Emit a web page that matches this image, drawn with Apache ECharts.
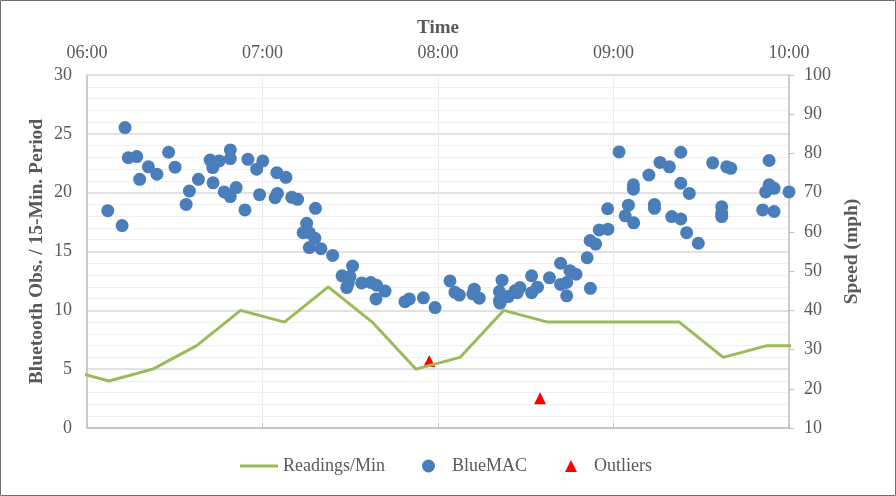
<!DOCTYPE html>
<html>
<head>
<meta charset="utf-8">
<script src="https://cdn.jsdelivr.net/npm/echarts@6/dist/echarts.min.js"></script>
<style>
  html, body { margin: 0; padding: 0; background: #fff; }
  #chart { width: 896px; height: 496px; }
</style>
</head>
<body>
<div id="chart"></div>
<script>
// minutes after 06:00
const readingMin = [-7.5, 7.5, 22.5, 37.5, 52.5, 67.5, 82.5, 97.5, 112.5, 127.5, 142.5, 157.5, 172.5, 187.5, 202.5, 217.5, 232.5, 247.5]
const readingVal = [5, 4, 5, 7, 10, 9, 12, 9, 5, 6, 10, 9, 9, 9, 9, 6, 7, 7]

const blueMin = [7.1, 12.0, 13.0, 14.1, 17.0, 18.0, 21.0, 23.9, 27.9, 30.1, 33.9, 35.0, 38.1, 42.1, 43.0, 43.1,
  45.2, 46.9, 49.0, 49.0, 49.0, 51.0, 54.0, 55.0, 58.0, 59.0, 60.1, 64.3, 64.9, 65.1, 68.0, 70.0, 72.0,
  78.1, 75.1, 73.9, 76.0, 77.9, 76.0, 80.0, 84.0, 90.8, 87.2, 89.9, 89.3, 88.8, 93.9, 97.0, 99.0, 101.9,
  98.8, 108.7, 110.2, 115.0, 119.0, 124.1, 125.8, 127.3, 132.4, 131.9, 134.1, 141.9, 141.0, 141.0, 141.2,
  144.0, 146.3, 148.0, 147.1, 152.0, 152.0, 154.0, 158.1, 161.9, 161.9, 164.0, 164.0, 165.1, 167.2, 171.0,
  172.1, 172.0, 173.9, 175.1, 178.1, 178.0, 181.9, 184.0, 185.1, 186.9, 186.8, 186.8, 192.1, 194.0, 194.0,
  195.9, 199.1, 199.9, 203.0, 203.0, 203.0, 205.9, 205.0, 209.0, 213.9, 217.0, 217.0, 217.0, 218.7, 220.1,
  231.0, 234.9, 233.2, 233.2, 232.0, 234.9, 240.0]
const blueMph = [65.4, 61.6, 86.6, 78.9, 79.2, 73.4, 76.6, 74.7, 80.3, 76.5, 67.0, 70.4, 73.4, 78.3, 76.4, 72.5,
  78.1, 70.2, 80.9, 78.7, 69.0, 71.3, 65.6, 78.5, 76.0, 69.5, 78.1, 68.7, 75.1, 69.8, 73.9, 68.8, 68.3,
  66.0, 62.2, 59.8, 59.8, 58.4, 56.0, 55.7, 54.0, 51.3, 48.8, 48.6, 46.9, 45.8, 47.0, 47.1, 46.4, 44.9,
  42.9, 42.2, 42.9, 43.2, 40.7, 47.5, 44.6, 43.9, 45.4, 44.2, 43.1, 47.7, 44.8, 42.5, 41.8,
  43.5, 45.0, 45.8, 44.5, 48.8, 44.5, 45.9, 48.3, 52.0, 46.6, 47.1, 43.7, 50.1, 49.2, 53.4,
  45.6, 57.8, 56.9, 60.5, 60.7, 65.9, 80.4, 64.1, 66.8, 62.3, 72.0, 70.9, 74.5, 67.0, 66.0,
  77.7, 76.6, 63.9, 80.3, 72.4, 63.3, 69.8, 59.8, 57.1, 77.6, 66.4, 64.7, 63.9, 76.6, 76.2,
  65.6, 65.2, 78.2, 72.0, 70.2, 71.1, 70.2]

const outlierMin = [117.0, 154.9]
const outlierMph = [27.1, 17.6]

const timeTicks = ['06:00', '07:00', '08:00', '09:00', '10:00']

const FONT = 'Liberation Serif'
const TXT = '#595959'
const legendText = { fontFamily: FONT, fontSize: 18, color: TXT }

const chart = echarts.init(document.getElementById('chart'))

const option = {
  animation: false,
  textStyle: { fontFamily: FONT },
  graphic: [{
    type: 'rect',
    shape: { x: 0.5, y: 0.5, width: 895, height: 495 },
    style: { fill: 'none', stroke: '#6e6e6e', lineWidth: 1 },
    silent: true
  }],
  grid: { left: 87, right: 107, top: 75, bottom: 68 },
  // 三个图例分开放，各自的图标大小不同
  legend: [
    {
      left: 240, top: 457, padding: 0,
      itemWidth: 38, itemHeight: 18,
      icon: 'path://M0,0 L38,0 L38,3 L0,3 Z',
      textStyle: legendText,
      data: ['Readings/Min']
    },
    {
      left: 422, top: 457, padding: 0,
      itemWidth: 13, itemHeight: 13,
      icon: 'circle',
      textStyle: Object.assign({ padding: [0, 0, 0, 12] }, legendText),
      data: ['BlueMAC']
    },
    {
      left: 565, top: 457, padding: 0,
      itemWidth: 12, itemHeight: 12,
      icon: 'triangle',
      textStyle: Object.assign({ padding: [0, 0, 0, 12] }, legendText),
      data: ['Outliers']
    }
  ],
  xAxis: {
    type: 'value',
    position: 'top',
    min: 0,
    max: 240,
    interval: 60,
    name: 'Time',
    nameLocation: 'middle',
    nameGap: 37,
    nameTextStyle: { fontFamily: FONT, fontSize: 19, fontWeight: 'bold', color: TXT },
    axisLine: { show: true, lineStyle: { color: '#bfbfbf', width: 1.5 } },
    axisTick: { show: true, inside: false, length: 5, lineStyle: { color: '#bfbfbf' } },
    axisLabel: {
      fontFamily: FONT, fontSize: 18, color: TXT, margin: 13,
      formatter: v => timeTicks[Math.round(v / 60)]
    },
    splitLine: { show: true, lineStyle: { color: '#ececec' } }
  },
  yAxis: [
    {
      type: 'value',
      min: 0,
      max: 30,
      interval: 5,
      name: 'Bluetooth Obs. / 15-Min. Period',
      nameLocation: 'middle',
      nameGap: 40,
      nameMoveOverlap: false,
      nameTextStyle: { fontFamily: FONT, fontSize: 19.5, fontWeight: 'bold', color: TXT },
      axisLine: { show: true, lineStyle: { color: '#bfbfbf', width: 1.5 } },
      axisTick: { show: false },
      axisLabel: { fontFamily: FONT, fontSize: 18, color: TXT, margin: 15 },
      splitLine: { show: true, lineStyle: { color: '#d9d9d9', width: 1.5 } },
      minorTick: { show: false, splitNumber: 5 },
      minorSplitLine: { show: true, lineStyle: { color: '#f0f0f0' } }
    },
    {
      type: 'value',
      min: 10,
      max: 100,
      interval: 10,
      name: 'Speed (mph)',
      nameLocation: 'middle',
      nameGap: 53,
      nameTextStyle: { fontFamily: FONT, fontSize: 19.5, fontWeight: 'bold', color: TXT },
      axisLine: { show: true, lineStyle: { color: '#bfbfbf', width: 1.5 } },
      axisTick: { show: true, length: 5, lineStyle: { color: '#bfbfbf' } },
      axisLabel: { fontFamily: FONT, fontSize: 18, color: TXT, margin: 15 },
      splitLine: { show: false }
    }
  ],
  series: [
    {
      name: 'Readings/Min',
      type: 'line',
      yAxisIndex: 0,
      symbol: 'none',
      clip: true,
      data: readingMin.map((m, i) => [m, readingVal[i]]),
      lineStyle: { color: '#9bbb59', width: 3 },
      itemStyle: { color: '#9bbb59' }
    },
    {
      name: 'BlueMAC',
      type: 'scatter',
      yAxisIndex: 1,
      symbol: 'circle',
      symbolSize: 13,
      clip: false,
      data: blueMin.map((m, i) => [m, blueMph[i]]),
      itemStyle: { color: '#4a7ebb', opacity: 1 }
    },
    {
      name: 'Outliers',
      type: 'scatter',
      yAxisIndex: 1,
      symbol: 'triangle',
      symbolSize: 12,
      data: outlierMin.map((m, i) => [m, outlierMph[i]]),
      itemStyle: { color: '#ff0000', opacity: 1 }
    }
  ]
}

chart.setOption(option)
</script>
</body>
</html>
